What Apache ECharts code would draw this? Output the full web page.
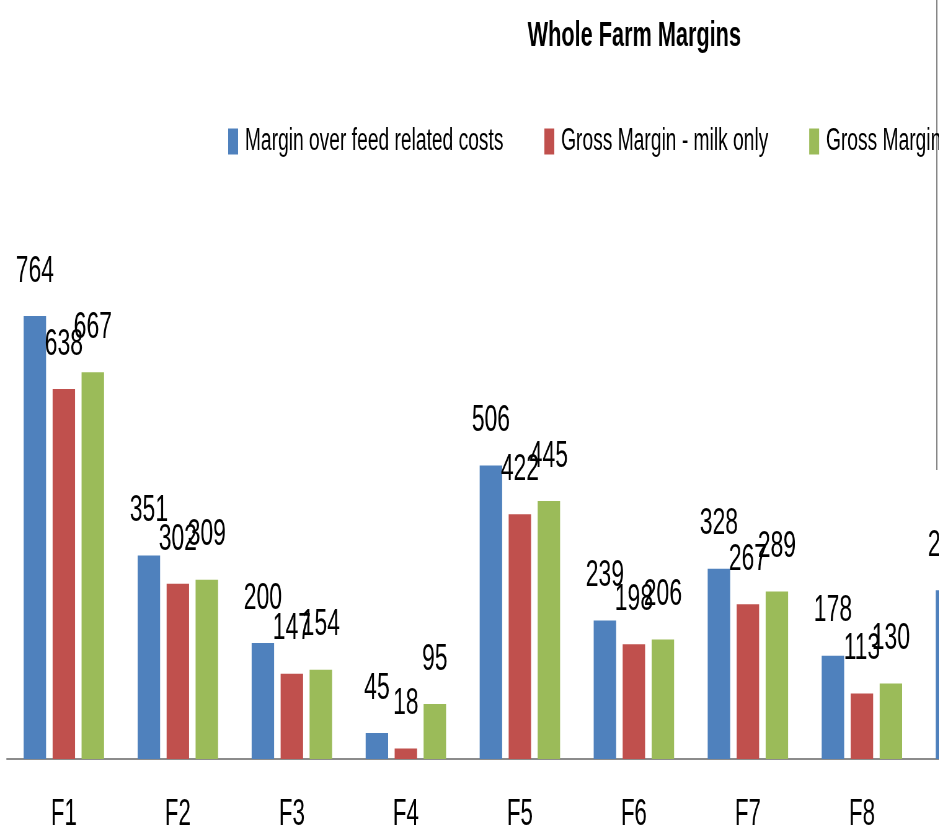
<!DOCTYPE html>
<html>
<head>
<meta charset="utf-8">
<script src="https://cdn.jsdelivr.net/npm/echarts@6/dist/echarts.min.js"></script>
<style>
  html, body { margin: 0; padding: 0; overflow: hidden; background: #fff; width: 939px; height: 833px; }
  /* the source picture is squeezed horizontally, so draw wide and squeeze */
  #chart { width: 2200px; height: 833px; transform: scaleX(0.62); transform-origin: 0 0; }
</style>
</head>
<body>
<div id="chart"></div>
<script>
const categories = ["F1", "F2", "F3", "F4", "F5", "F6", "F7", "F8", "F9"];
const seriesNames = ["Margin over feed related costs", "Gross Margin - milk only", "Gross Margin - whole farm"];
const marginOverFeed = [764, 351, 200, 45, 506, 239, 328, 178, 291];
const grossMarginMilk = [638, 302, 147, 18, 422, 198, 267, 113, 240];
const grossMarginWhole = [667, 309, 154, 95, 445, 206, 289, 130, 252];
const colors = ["#4F81BD", "#C0504D", "#9BBB59"];

const NARROW = "'Liberation Sans Narrow', 'Liberation Sans', sans-serif";
const REGULAR = "'Liberation Sans', Arial, sans-serif";

const chart = echarts.init(document.getElementById("chart"));

function barSeries(name, data, color) {
  return {
    name: name,
    type: "bar",
    data: data,
    barWidth: "19.7%",
    barGap: "29%",
    itemStyle: { color: color },
    label: {
      show: true,
      position: "top",
      distance: 26,
      fontSize: 37,
      fontFamily: NARROW,
      color: "#000"
    }
  };
}

chart.setOption({
  animation: false,
  title: {
    text: "Whole Farm Margins",
    left: 846,
    top: 14,
    textStyle: { fontFamily: REGULAR, fontWeight: "bold", fontSize: 35, color: "#000" }
  },
  legend: {
    left: 363,
    top: 121,
    width: 1800,
    icon: "rect",
    itemWidth: 16,
    itemHeight: 26,
    itemGap: 66,
    textStyle: { fontFamily: REGULAR, fontSize: 31, color: "#000", padding: [0, 0, 0, 6] }
  },
  grid: { left: 11, width: 1655, top: 179, bottom: 74 },
  xAxis: {
    type: "category",
    data: categories,
    axisLine: { lineStyle: { color: "#8c8c8c", width: 2 } },
    axisTick: { show: false },
    axisLabel: { fontSize: 36, fontFamily: NARROW, color: "#000", margin: 38 }
  },
  yAxis: {
    type: "value",
    min: 0,
    max: 1000,
    show: false,
    splitLine: { show: false }
  },
  series: [
    barSeries(seriesNames[0], marginOverFeed, colors[0]),
    barSeries(seriesNames[1], grossMarginMilk, colors[1]),
    barSeries(seriesNames[2], grossMarginWhole, colors[2])
  ],
  graphic: [
    {
      type: "line",
      shape: { x1: 1511, y1: 0, x2: 1511, y2: 470 },
      style: { stroke: "#7f7f7f", lineWidth: 2 }
    }
  ]
});
</script>
</body>
</html>
